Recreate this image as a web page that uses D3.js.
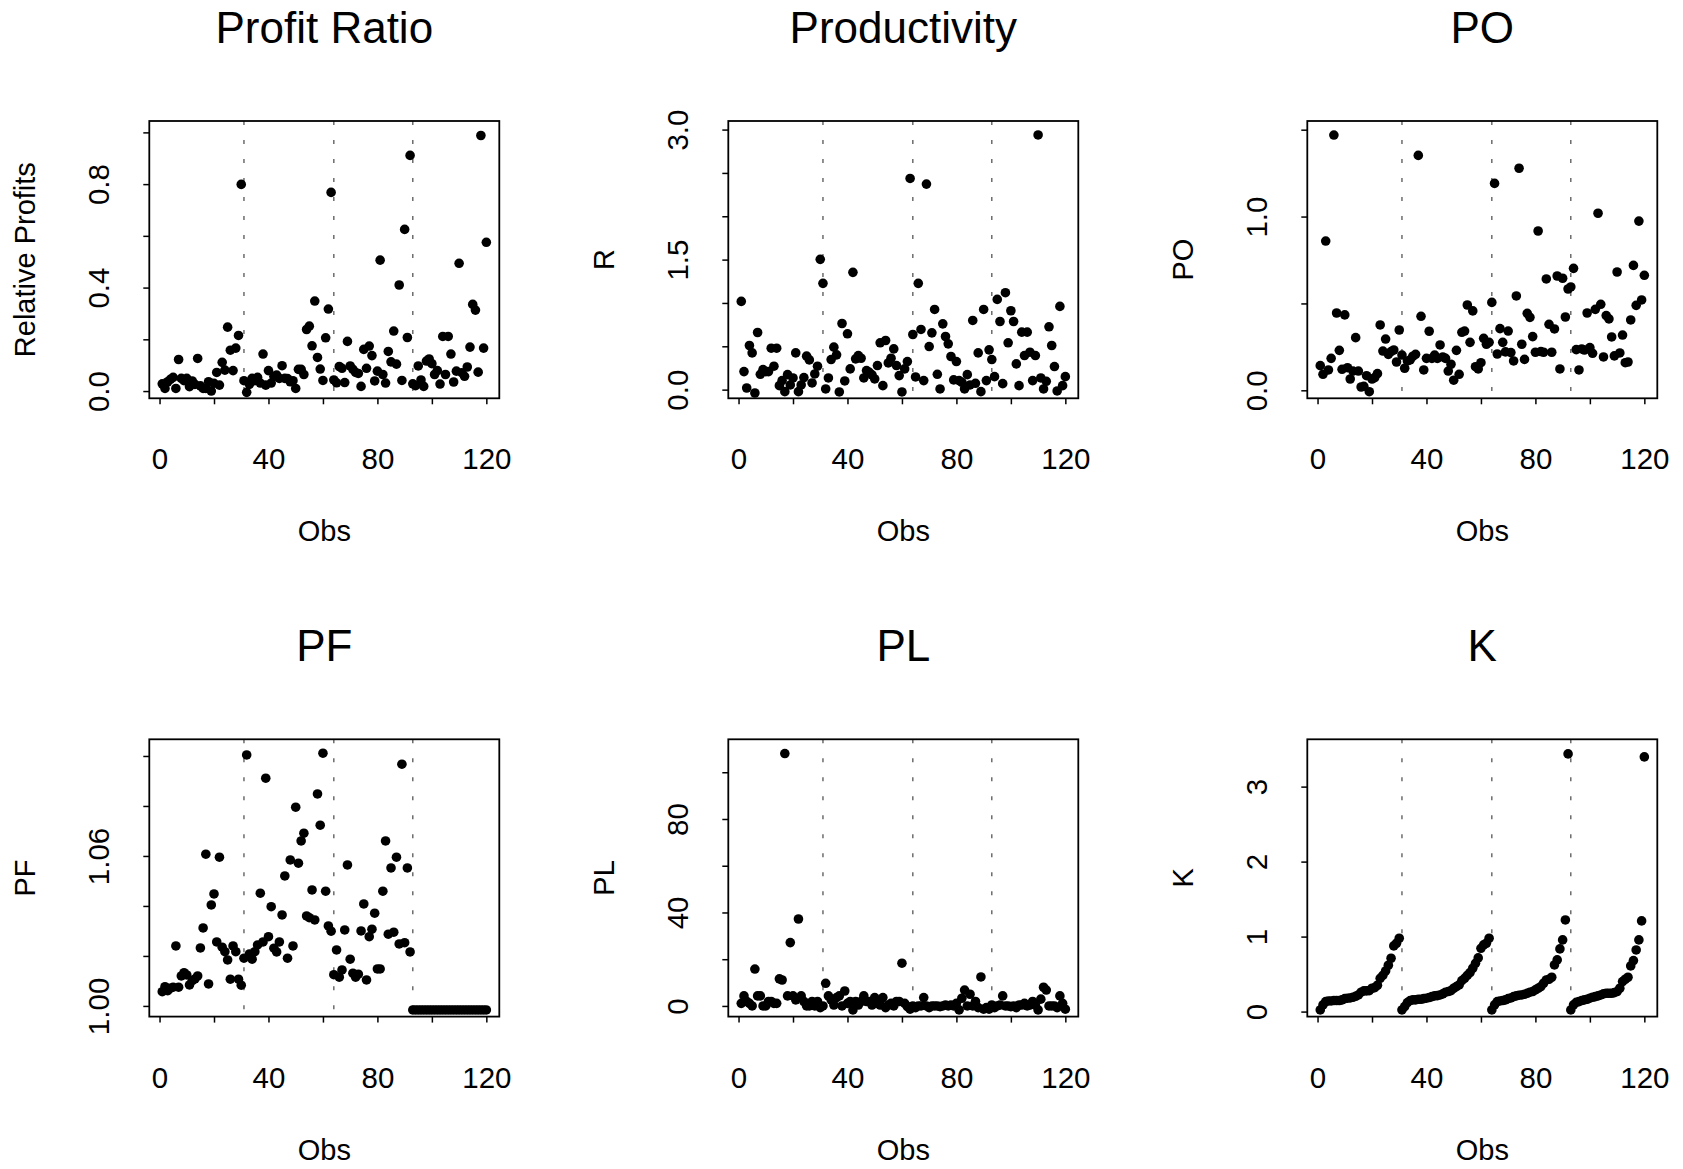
<!DOCTYPE html>
<html>
<head>
<meta charset="utf-8">
<title>Profit Ratio, Productivity, PO, PF, PL, K</title>
<script src="https://d3js.org/d3.v7.min.js"></script>
<style>
  body { margin: 0; background: #fff; }
  svg text { font-family: "Liberation Sans", Arial, Helvetica, sans-serif; fill: #000; }
</style>
</head>
<body>
<svg id="chart" width="1683" height="1169"></svg>
<script>
var profitRatio = [
  0.028,0.010,0.036,0.045,0.053,0.010,0.122,0.049,0.040,0.049,
  0.017,0.039,0.026,0.126,0.020,0.010,0.010,0.036,0.000,0.030,
  0.072,0.023,0.111,0.081,0.247,0.158,0.079,0.166,0.215,0.799,
  0.040,-0.005,0.026,0.049,0.040,0.053,0.031,0.143,0.023,0.079,
  0.031,0.057,0.062,0.049,0.098,0.049,0.048,0.036,0.040,0.010,
  0.084,0.084,0.064,0.238,0.251,0.175,0.348,0.130,0.085,0.041,
  0.206,0.317,0.768,0.043,0.032,0.095,0.088,0.033,0.192,0.097,
  0.084,0.072,0.068,0.018,0.161,0.088,0.174,0.137,0.039,0.077,
  0.506,0.064,0.031,0.153,0.113,0.232,0.104,0.410,0.041,0.625,
  0.207,0.911,0.028,0.021,0.097,0.043,0.018,0.116,0.124,0.106,
  0.064,0.079,0.027,0.211,0.064,0.211,0.143,0.035,0.077,0.494,
  0.071,0.057,0.093,0.170,0.335,0.313,0.073,0.988,0.166,0.575
];
var productivity = [
  1.018,0.208,0.019,0.509,0.424,-0.039,0.659,0.177,0.231,0.208,
  0.208,0.478,0.270,0.478,0.046,0.104,-0.023,0.173,0.054,0.135,
  0.424,-0.023,0.054,0.139,0.386,0.343,0.077,0.181,0.270,1.503,
  1.226,0.008,0.135,0.347,0.490,0.401,-0.027,0.763,0.100,0.644,
  0.239,1.353,0.355,0.393,0.362,0.135,0.220,0.200,0.170,0.123,
  0.278,0.540,0.046,0.567,0.308,0.362,0.470,0.278,0.162,-0.027,
  0.239,0.324,2.436,0.636,0.146,1.226,0.694,0.104,2.371,0.497,
  0.655,0.925,0.177,0.008,0.759,0.613,0.528,0.382,0.112,0.324,
  0.104,0.085,0.008,0.173,0.054,0.798,0.073,0.424,-0.023,0.925,
  0.104,0.459,0.347,0.150,1.041,0.786,0.069,1.118,0.540,0.910,
  0.786,0.297,0.046,0.663,0.393,0.663,0.432,0.104,0.393,2.938,
  0.135,0.008,0.096,0.725,0.509,0.266,-0.015,0.960,0.046,0.150
];
var po = [
  0.142,0.092,0.859,0.117,0.184,1.469,0.445,0.230,0.121,0.434,
  0.130,0.065,0.111,0.303,0.111,0.019,0.023,0.084,-0.008,0.065,
  0.073,0.096,0.376,0.226,0.295,0.207,0.223,0.232,0.163,0.347,
  0.203,0.127,0.169,0.175,0.196,0.207,1.352,0.426,0.117,0.184,
  0.340,0.184,0.203,0.184,0.261,0.192,0.184,0.111,0.150,0.058,
  0.230,0.092,0.334,0.341,0.491,0.276,0.457,0.136,0.123,0.159,
  0.299,0.265,0.276,0.506,1.191,0.209,0.355,0.276,0.221,0.341,
  0.217,0.169,0.543,1.278,0.265,0.178,0.443,0.420,0.309,0.219,
  0.917,0.223,0.219,0.641,0.380,0.219,0.353,0.658,0.123,0.645,
  0.422,0.583,0.595,0.702,0.234,0.117,0.238,0.232,0.445,0.246,
  0.213,0.466,1.019,0.495,0.192,0.430,0.411,0.307,0.198,0.681,
  0.215,0.318,0.159,0.163,0.405,0.719,0.489,0.974,0.520,0.662
];
var pf = [
  1.0057,1.0077,1.0061,1.0071,1.0075,1.0240,1.0075,1.0120,1.0133,1.0124,
  1.0084,1.0101,1.0108,1.0120,1.0232,1.0312,1.0607,1.0088,1.0404,1.0448,
  1.0256,1.0595,1.0235,1.0217,1.0184,1.0107,1.0240,1.0217,1.0107,1.0083,
  1.0191,1.1004,1.0208,1.0187,1.0217,1.0244,1.0451,1.0256,1.0911,1.0277,
  1.0397,1.0231,1.0216,1.0256,1.0364,1.0520,1.0191,1.0584,1.0240,1.0795,
  1.0571,1.0660,1.0691,1.0360,1.0353,1.0464,1.0344,1.0848,1.0723,1.1011,
  1.0459,1.0320,1.0299,1.0125,1.0224,1.0115,1.0144,1.0304,1.0564,1.0187,
  1.0131,1.0115,1.0127,1.0300,1.0408,1.0104,1.0277,1.0307,1.0371,1.0148,
  1.0148,1.0459,1.0660,1.0287,1.0552,1.0295,1.0595,1.0248,1.0967,1.0253,
  1.0552,1.0216,0.9984,0.9984,0.9984,0.9984,0.9984,0.9984,0.9984,0.9984,
  0.9984,0.9984,0.9984,0.9984,0.9984,0.9984,0.9984,0.9984,0.9984,0.9984,
  0.9984,0.9984,0.9984,0.9984,0.9984,0.9984,0.9984,0.9984,0.9984,0.9984
];
var pl = [
  1.1,4.3,1.9,1.1,0.0,15.8,4.3,4.3,0.0,0.0,
  1.9,1.9,1.1,1.1,11.6,11.1,108.0,4.3,27.1,4.3,
  2.6,37.2,4.3,1.9,0.0,0.0,1.9,0.0,1.9,-0.7,
  0.0,9.7,4.3,2.6,0.4,3.6,4.3,0.0,6.4,1.1,
  1.9,-1.7,1.9,0.4,1.9,4.3,1.9,1.9,0.4,3.6,
  1.1,0.4,3.6,-0.7,0.4,1.1,0.0,1.9,1.9,18.3,
  1.1,-0.3,-1.4,0.0,-0.7,0.0,0.0,3.6,0.0,-0.7,
  0.0,0.0,0.0,-0.3,0.0,0.4,0.0,0.4,0.0,1.1,
  -1.7,3.3,6.8,0.0,5.0,0.0,1.9,-0.7,12.4,-1.4,
  -0.7,-1.4,0.4,-0.7,0.0,0.4,4.3,0.0,0.0,-0.3,
  0.0,-0.7,0.4,0.4,1.1,0.0,0.4,1.9,0.4,-1.7,
  2.9,8.0,6.8,0.0,0.0,0.0,-0.7,4.3,1.1,-1.4
];
var k = [
  // obs 1-30
  0.022,0.089,0.133,0.142,0.142,0.147,0.147,0.147,0.156,0.173,
  0.178,0.182,0.191,0.204,0.222,0.258,0.276,0.276,0.280,0.311,
  0.320,0.351,0.444,0.484,0.542,0.618,0.711,0.876,0.911,0.978,
  // obs 31-63
  0.022,0.067,0.120,0.147,0.156,0.156,0.164,0.164,0.173,0.178,
  0.187,0.200,0.209,0.213,0.222,0.236,0.258,0.267,0.280,0.311,
  0.333,0.356,0.413,0.444,0.484,0.520,0.578,0.644,0.716,0.844,
  0.889,0.911,0.978,
  // obs 64-92
  0.022,0.089,0.133,0.142,0.147,0.156,0.173,0.182,0.200,0.209,
  0.218,0.222,0.231,0.244,0.258,0.267,0.289,0.311,0.333,0.378,
  0.422,0.431,0.458,0.622,0.689,0.836,0.956,1.222,3.436,
  // obs 93-120
  0.022,0.089,0.124,0.133,0.147,0.156,0.164,0.178,0.191,0.200,
  0.209,0.222,0.236,0.244,0.244,0.244,0.253,0.267,0.311,0.400,
  0.431,0.458,0.609,0.680,0.822,0.956,1.209,3.396
];

var groupBreaks = [31, 64, 93];

var xTicks = [0, 20, 40, 60, 80, 100, 120];
var xLabels = ["0", "", "40", "", "80", "", "120"];

var prTicks = [0, 0.2, 0.4, 0.6, 0.8, 1.0];
var prLabels = ["0.0", "", "0.4", "", "0.8", ""];
var rTicks = [0, 0.5, 1.0, 1.5, 2.0, 2.5, 3.0];
var rLabels = ["0.0", "", "", "1.5", "", "", "3.0"];
var poTicks = [0, 0.5, 1.0, 1.5];
var poLabels = ["0.0", "", "1.0", ""];
var pfTicks = [1.00, 1.02, 1.04, 1.06, 1.08, 1.10];
var pfLabels = ["1.00", "", "", "1.06", "", ""];
var plTicks = [0, 20, 40, 60, 80, 100];
var plLabels = ["0", "", "40", "", "80", ""];
var kTicks = [0, 1, 2, 3];
var kLabels = ["0", "1", "2", "3"];

var panels = [
  { title: "Profit Ratio", ylab: "Relative Profits", values: profitRatio, yDomain: [-0.028, 1.044], ticks: prTicks, labels: prLabels },
  { title: "Productivity", ylab: "R", values: productivity, yDomain: [-0.100, 3.099], ticks: rTicks, labels: rLabels },
  { title: "PO", ylab: "PO", values: po, yDomain: [-0.046, 1.550], ticks: poTicks, labels: poLabels },
  { title: "PF", ylab: "PF", values: pf, yDomain: [0.99573, 1.10667], ticks: pfTicks, labels: pfLabels },
  { title: "PL", ylab: "PL", values: pl, yDomain: [-4.56, 114.1], ticks: plTicks, labels: plLabels },
  { title: "K", ylab: "K", values: k, yDomain: [-0.067, 3.631], ticks: kTicks, labels: kLabels }
];

var svg = d3.select("#chart");
var colLeft = [149.3, 728.3, 1307.3],
    rowTop = [121, 739.3],
    w = 350, h = 277.3;

var x = d3.scaleLinear().domain([-3.76, 124.76]).range([0, w]);

panels.forEach(function (p, i) {
  var g = svg.append("g")
      .attr("transform", "translate(" + colLeft[i % 3] + "," + rowTop[Math.floor(i / 3)] + ")");
  var y = d3.scaleLinear().domain(p.yDomain).range([h, 0]);
  var data = p.values.map(function (v, j) { return { obs: j + 1, v: v }; });

  g.selectAll(".brk")
      .data(groupBreaks)
      .enter().append("line")
      .attr("class", "brk")
      .attr("x1", function (d) { return x(d); })
      .attr("x2", function (d) { return x(d); })
      .attr("y1", 0)
      .attr("y2", h)
      .attr("stroke", "#555")
      .attr("stroke-width", 1.3)
      .attr("stroke-dasharray", "4,15");

  g.selectAll(".pt")
      .data(data)
      .enter().append("circle")
      .attr("class", "pt")
      .attr("cx", function (d) { return x(d.obs); })
      .attr("cy", function (d) { return y(d.v); })
      .attr("r", 4.8)
      .attr("fill", "#000");

  g.append("rect")
      .attr("width", w)
      .attr("height", h)
      .attr("fill", "none")
      .attr("stroke", "#000")
      .attr("stroke-width", 1.8);

  var ax = g.append("g")
      .attr("transform", "translate(0," + h + ")")
      .call(d3.axisBottom(x).tickValues(xTicks).tickSize(6)
        .tickFormat(function (d, j) { return xLabels[j]; }));
  ax.select(".domain").remove();
  ax.attr("font-size", 29.5);
  ax.selectAll("line").attr("stroke-width", 1.5);
  ax.selectAll("text").attr("y", 71).attr("dy", 0);

  var ay = g.append("g")
      .call(d3.axisLeft(y).tickValues(p.ticks).tickSize(6)
        .tickFormat(function (d, j) { return p.labels[j]; }));
  ay.select(".domain").remove();
  ay.attr("font-size", 29.5);
  ay.selectAll("line").attr("stroke-width", 1.5);
  ay.selectAll("text")
      .attr("x", 0)
      .attr("dy", 0)
      .attr("text-anchor", "middle")
      .attr("transform", "translate(-40,0) rotate(-90)");

  g.append("text")
      .attr("x", w / 2)
      .attr("y", -78)
      .attr("text-anchor", "middle")
      .attr("font-size", 44)
      .text(p.title);

  g.append("text")
      .attr("x", w / 2)
      .attr("y", h + 143)
      .attr("text-anchor", "middle")
      .attr("font-size", 29)
      .text("Obs");

  g.append("text")
      .attr("transform", "translate(-114," + (h / 2) + ") rotate(-90)")
      .attr("text-anchor", "middle")
      .attr("font-size", 29)
      .text(p.ylab);
});
</script>
</body>
</html>
